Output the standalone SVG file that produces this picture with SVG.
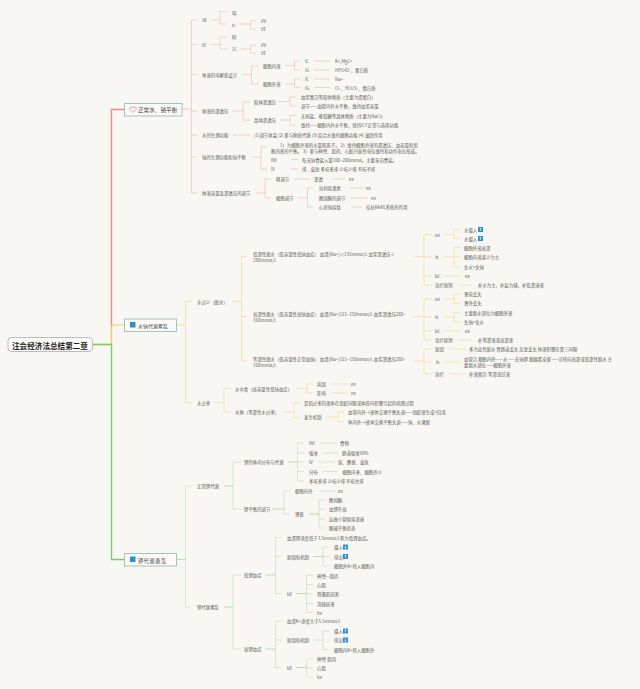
<svg xmlns="http://www.w3.org/2000/svg" width="640" height="689" viewBox="0 0 640 689">
<style>
text{font-family:"Noto Sans CJK SC","Liberation Sans",sans-serif;font-size:4.4px;fill:#5a5a56;dominant-baseline:central}
.m{font-size:5.6px;fill:#444}
.r{font-size:7.6px;font-weight:700;fill:#222;text-anchor:middle}
.box{fill:#fbfaf7;stroke:#8fb5ae;stroke-width:.8}
.root{fill:#fbfaf7;stroke:#a9adb3;stroke-width:.8}
.c{fill:none;stroke-width:.7}
.p{stroke:#f3bdbb}.o{stroke:#fbd88f}.g{stroke:#c8dcc4}.gb{stroke:#9dd48d}
.ic{fill:#2a8fd6}
.ar{fill:none;stroke:#fff;stroke-width:.6}
</style>
<rect width="640" height="689" fill="#f8f7f3"/>
<g id="connectors">
<path d="M92 344.5H111.5V325" fill="none" stroke="#fbc66e" stroke-width="1.4"/>
<path d="M111.5 326V109.5H124" fill="none" stroke="#f08a82" stroke-width="1.4"/>
<path d="M111.5 325H124" fill="none" stroke="#fbd48a" stroke-width="1.4"/>
<path d="M92 344.5H111.5V559.5H124" fill="none" stroke="#7ccb68" stroke-width="1.4"/>
<g class="c p">
<path d="M182 109H191.5M197 20H191.5V193H197M191.5 44.5H197M191.5 74.5H197M191.5 111H197M191.5 135H197M191.5 157H197"/>
<path d="M212 20H220M227 11.5H220V24H227M240 24H250.5M256 20.5H250.5V29H256"/>
<path d="M211 44.5H220M227 37H220V49H227M241 49H250.5M256 45H250.5V53H256"/>
<path d="M242 74.5H251.5M258 66H251.5V84H258M285 65.5H294.5M300 61H294.5V70H300M314 61H330M314 70H330M285 84H294.5M300 79H294.5V87.5H300M314 79H330M314 87.5H330"/>
<path d="M232 111H243M250 102H243V120H250M278 101.500H290M296 97H290V106H296M280 120H290M296 115.500H290V125H296"/>
<path d="M233 135H250"/>
<path d="M251 157H261M267 147H261V169H267M291 159.500H298M291 169H298"/>
<path d="M256 193H265M271 179H265V198H271M294 179H310M331 179H345M298 198H307.500M313 188H307.500V207H313M350 188H365M350 198H368M352 207H362"/>
</g>
<g class="c o">
<path d="M176 325H185.500M192 301.500H185.500V402.500H192M232 301.500H241.500M247 256.500H241.500V361H247M241.500 316.500H247"/>
<path d="M414 256.500H424M432 234.500H424V285H432M424 257H432M424 276H432M444 234.500H454M460 229.500H454V238.500H460M444 257H454M460 247.500H454V267H460M454 257H460M444 276H460M458 285H472"/>
<path d="M414 316.500H424M432 299H424V340H432M424 317H432M424 331H432M444 299H454M460 294H454V303H460M444 317H454M460 313H454V322H460M444 331H460M458 340H472"/>
<path d="M414 361H424M432 349H424V374H432M424 362H432M449 349H466M445 362H460M449 374H466"/>
<path d="M214 402.500H224M231 388.500H224V412H231M297 388.500H307M313 384H307V393H313M332 384H348M332 393H348M284 412H294M300 403H294V417.500H300M326 417H338M344 412H338V421.500H344"/>
</g>
<g class="c g">
<path d="M191 486H185.500V607H191M241 462H233V509H241M304 443H297.500V481H304M297.500 453H304M297.500 462H304M297.500 471.500H304M320 443H337M323 453H338M318 462H335M323 471.500H338"/>
<path d="M290 491H284V514H290M320 491H336M325 500H319V528H325M319 509H325M319 519H325"/>
<path d="M241 575H233V649H241M282 537.500H275.500V593.500H282M275.500 556.500H282M329 547H323V566H329M323 556.500H329M313 575.500H306.500V612.500H313M306.500 584.500H313M306.500 594H313M306.500 603.500H313"/>
<path d="M282 621H275.500V667.500H282M275.500 640H282M329 631H323V649.500H329M313 640H323M313 659H306.500V677H313M306.500 668H313"/>
</g>
<g class="c gb">
<path d="M176 559.500H185.500M224 486H233M224 607H233M288 462H297.500M266 575H275.500M313 556.500H323M296 593.500H306.500M266 649H275.500M296 667.500H306.500M272 509H284M309 514H319"/>
</g>
</g>
<g id="root"><rect class="root" x="8" y="337.500" width="84.500" height="14" rx="3.500"/><text class="r" x="50" y="345">注会经济法总结第二章</text></g>
<g id="node1"><rect class="box" x="124.500" y="103.500" width="57.500" height="12.500"/><path d="M133 112.500l-3-3c-1.400-1.800 1.600-3.400 3-1.500c1.400-1.900 4.400-.3 3 1.500z" fill="none" stroke="#e8615a" stroke-width=".6"/><text class="m" x="138" y="110">正常水、钠平衡</text></g>
<g id="node2"><rect class="box" x="124.500" y="319" width="52" height="12.500"/><rect class="ic" x="130" y="322" width="5.500" height="5.500"/><text class="m" x="138" y="325.500" style="font-size:5px">水钠代谢紊乱</text></g>
<g id="node3"><rect class="box" x="124.500" y="553.500" width="52" height="12.500"/><rect class="ic" x="130" y="556.500" width="5.500" height="5.500"/><text class="m" x="138" y="560" style="font-size:5.200px;letter-spacing:.6px">钾代谢紊乱</text></g>
<g id="s1">
<g id="a1"><text x="202" y="20">tR</text></g>
<g id="a2"><text x="232" y="12.500">叫</text></g>
<g id="a3"><text x="232" y="24.500">lc</text></g>
<g id="a4"><text x="261" y="20.500">VV</text></g>
<g id="a5"><text x="261" y="29">VE</text></g>
<g id="a6"><text x="202" y="44.500">tE</text></g>
<g id="a7"><text x="232" y="37">阿</text></g>
<g id="a8"><text x="232" y="49">1C</text></g>
<g id="a9"><text x="261" y="45">VV</text></g>
<g id="a10"><text x="261" y="53">VE</text></g>
<g id="a11"><text x="202" y="74.500">体液的电解质设计</text></g>
<g id="a12"><text x="263" y="66">细胞内液</text></g>
<g id="a13"><text x="263" y="84">细胞外液</text></g>
<g id="a14"><text x="305" y="61">IC</text></g>
<g id="a15"><text x="305" y="70">IG</text></g>
<g id="a16"><text x="335" y="61">K+,Mg2+</text></g>
<g id="a17"><text x="335" y="70">HPO42-、蛋白质</text></g>
<g id="a18"><text x="305" y="79">IC</text></g>
<g id="a19"><text x="305" y="87.500">IG</text></g>
<g id="a20"><text x="335" y="79">Na+</text></g>
<g id="a21"><text x="335" y="87.500">Cl-、HCO3-、蛋白质</text></g>
<g id="a22"><text x="202" y="111">体液的渗透压</text></g>
<g id="a23"><text x="254" y="102">胶体渗透压</text></g>
<g id="a24"><text x="254" y="120">晶体渗透压</text></g>
<g id="a25"><text x="301" y="97">血浆蛋白等胶体物质（主要为清蛋白）</text></g>
<g id="a26"><text x="301" y="106">调节——血管内外水平衡，维持血浆容量</text></g>
<g id="a27"><text x="301" y="115.500">无机盐、葡萄糖等晶体物质（主要为NaCl）</text></g>
<g id="a28"><text x="301" y="125">维持——细胞内外水平衡，保持ICF正常与选择功能</text></g>
<g id="a29"><text x="202" y="135">水的生理功能</text></g>
<g id="a30"><text x="254" y="135">(1)调节体温 (2) 参与物质代谢 (3) 结合水维持细胞功能 (4) 滋润作用</text></g>
<g id="a31"><text x="202" y="157">钠的生理功能和钠平衡</text></g>
<g id="a32"><text x="280" y="144.500">1）为细胞外液的水量阳离子。      2）维持细胞外液的渗透压、血容量和组</text><text x="271" y="150.500">胞内液的平衡。      3）参与神经、肌肉、心脏兴奋性电位维持和动作电位形成。</text></g>
<g id="a33"><text x="271" y="159.500">INI</text></g>
<g id="a34"><text x="302" y="159.500">每天钠食盐入量100~200mmol。主要来自食盐。</text></g>
<g id="a35"><text x="271" y="169">IV</text></g>
<g id="a36"><text x="302" y="169">排、皮肤 多吃多排 少吃少排 不吃不排</text></g>
<g id="a37"><text x="202" y="193">体液容量及渗透压的调节</text></g>
<g id="a38"><text x="276" y="179">释调节</text></g>
<g id="a39"><text x="276" y="198">细胞调节</text></g>
<g id="a40"><text x="314" y="179">渗透</text></g>
<g id="a41"><text x="349" y="179">ee</text></g>
<g id="a42"><text x="319" y="188">抗利尿激素</text></g>
<g id="a43"><text x="319" y="198">醛固酮的调节</text></g>
<g id="a44"><text x="319" y="207">心房钠尿肽</text></g>
<g id="a45"><text x="366" y="188">ee</text></g>
<g id="a46"><text x="371" y="198">ee</text></g>
<g id="a47"><text x="366" y="207">拮抗RAAS系统的作用</text></g>
</g>
<g id="s2">
<g id="b1"><text x="197" y="301.500">水过少（脱水）</text></g>
<g id="b2"><text x="253" y="254">低渗性脱水（低容量性低钠血症）  血清[Na+]＜135mmol/L 血浆渗透压＜</text><text x="253" y="260">280mmol/L</text></g>
<g id="b3"><text x="253" y="314">高渗性脱水（低容量性高钠血症）  血清[Na+]115~150mmol/L 血浆渗透压280~</text><text x="253" y="320">310mmol/L</text></g>
<g id="b4"><text x="253" y="359">等渗性脱水（低容量性正常血钠）  血清[Na+]115~150mmol/L 血浆渗透压280~</text><text x="253" y="365">310mmol/L</text></g>
<g id="b5"><text x="435" y="234.500">ee</text></g>
<g id="b6"><text x="435" y="257">Ix</text></g>
<g id="b7"><text x="435" y="276">bC</text></g>
<g id="b8"><text x="435" y="285">治疗原则</text></g>
<g id="b9"><text x="464" y="229.500">水摄入</text><rect class="ic" x="478" y="227" width="5" height="5"/><path class="ar" d="M480.500 231V228M479.500 229l1-1 1 1"/></g>
<g id="b10"><text x="464" y="238.500">水摄入</text><rect class="ic" x="478" y="236" width="5" height="5"/><path class="ar" d="M480.500 240V237M479.500 238l1-1 1 1"/></g>
<g id="b11"><text x="464" y="247.500">细胞外液高渗</text></g>
<g id="b12"><text x="464" y="257">细胞内液减少为主</text></g>
<g id="b13"><text x="464" y="267">失水&gt;失钠</text></g>
<g id="b14"><text x="465" y="276">ee</text></g>
<g id="b15"><text x="478" y="284.500">补水为主，补盐为辅，补低渗溶液</text></g>
<g id="b16"><text x="435" y="299">ee</text></g>
<g id="b17"><text x="435" y="317">Ix</text></g>
<g id="b18"><text x="435" y="331">bC</text></g>
<g id="b19"><text x="435" y="340">治疗原则</text></g>
<g id="b20"><text x="464" y="294">肾前丢失</text></g>
<g id="b21"><text x="464" y="303">肾外丢失</text></g>
<g id="b22"><text x="464" y="313">主要脱水部位为细胞外液</text></g>
<g id="b23"><text x="464" y="322">失钠&gt;失水</text></g>
<g id="b24"><text x="465" y="331">ee</text></g>
<g id="b25"><text x="478" y="340">补等渗液或高渗液</text></g>
<g id="b26"><text x="435" y="349">原因</text></g>
<g id="b27"><text x="469" y="349">多为急性脱水 胃肠道丢失 反复丢失 体液积聚在第三间隙</text></g>
<g id="b28"><text x="436" y="362">Ix</text></g>
<g id="b29"><text x="464" y="359">血管沉 细胞内外——水——无钠钾 脱胰脂支留——可转向高渗或低渗性脱水 主</text><text x="464" y="365">要脱水部位——细胞外液</text></g>
<g id="b30"><text x="435" y="374">治疗</text></g>
<g id="b31"><text x="469" y="374">补液频次-等渗或综液</text></g>
<g id="b32"><text x="197" y="402.500">水过多</text></g>
<g id="b33"><text x="235" y="388.500">水中毒（高容量性低钠血症）</text></g>
<g id="b34"><text x="235" y="412">水肿（等渗性水过多）</text></g>
<g id="b35"><text x="317" y="384">病因</text></g>
<g id="b36"><text x="317" y="393">影响</text></g>
<g id="b37"><text x="351" y="384">ee</text></g>
<g id="b38"><text x="351" y="393">ee</text></g>
<g id="b39"><text x="304" y="403">是指过多的液体在组织间隙或体腔内积聚引起的病理过程</text></g>
<g id="b40"><text x="304" y="417">发生机制</text></g>
<g id="b41"><text x="348" y="412">血管内外→液体交换平衡失调——组织液生成&gt;回流</text></g>
<g id="b42"><text x="348" y="421.500">体内外→液体交换平衡失调——钠、水潴留</text></g>
</g>
<g id="s3">
<g id="c1"><text x="197" y="486">正常钾代谢</text></g>
<g id="c2"><text x="244" y="462">钾的体内分布与代谢</text></g>
<g id="c3"><text x="244" y="509">钾平衡的调节</text></g>
<g id="c4"><text x="309" y="443">INI</text></g>
<g id="c5"><text x="309" y="453">吸收</text></g>
<g id="c6"><text x="309" y="462">IV</text></g>
<g id="c7"><text x="309" y="471.500">分布</text></g>
<g id="c8"><text x="309" y="481">多吃多排 少吃少排 不吃也排</text></g>
<g id="c9"><text x="340" y="443">食物</text></g>
<g id="c10"><text x="342" y="453">肠道吸收90%</text></g>
<g id="c11"><text x="338" y="462">尿、粪便、皮肤</text></g>
<g id="c12"><text x="342.500" y="471.500">细胞内多、细胞外少</text></g>
<g id="c13"><text x="295" y="491">细胞内外</text></g>
<g id="c14"><text x="338" y="491">ee</text></g>
<g id="c15"><text x="295" y="514">肾脏</text></g>
<g id="c16"><text x="329" y="500">醛固酮</text></g>
<g id="c17"><text x="329" y="509">血钾升高</text></g>
<g id="c18"><text x="329" y="519">远曲小管原尿流速</text></g>
<g id="c19"><text x="329" y="528">酸碱平衡状态</text></g>
<g id="c20"><text x="197" y="607">钾代谢紊乱</text></g>
<g id="c21"><text x="244" y="575">低钾血症</text></g>
<g id="c22"><text x="244" y="649">高钾血症</text></g>
<g id="c23"><text x="287" y="537.500">血清钾浓度低于3.5mmol/L称为低钾血症。</text></g>
<g id="c24"><text x="287" y="556.500">原因和机制</text></g>
<g id="c25"><text x="287" y="593.500">bE</text></g>
<g id="c26"><text x="334" y="547">摄入</text><rect class="ic" x="343" y="544.500" width="5" height="5"/><path class="ar" d="M345.500 545.500V548.500M344.500 547.500l1 1 1-1"/></g>
<g id="c27"><text x="334" y="556.500">排出</text><rect class="ic" x="343" y="554" width="5" height="5"/><path class="ar" d="M345.500 558V555M344.500 556l1-1 1 1"/></g>
<g id="c28"><text x="334" y="566">细胞外K+转入细胞内</text></g>
<g id="c29"><text x="317" y="575.500">神经—肌肉</text></g>
<g id="c30"><text x="317" y="584.500">心肌</text></g>
<g id="c31"><text x="317" y="594">骨骼肌损害</text></g>
<g id="c32"><text x="317" y="603.500">消肢损害</text></g>
<g id="c33"><text x="317" y="612.500">hx</text></g>
<g id="c34"><text x="287" y="621">血清K+浓度大于5.5mmol/L</text></g>
<g id="c35"><text x="287" y="640">原因和机制</text></g>
<g id="c36"><text x="287" y="667.500">bE</text></g>
<g id="c37"><text x="334" y="631">摄入</text><rect class="ic" x="343" y="628.500" width="5" height="5"/><path class="ar" d="M345.500 632.500V629.500M344.500 630.500l1-1 1 1"/></g>
<g id="c38"><text x="334" y="640">排出</text><rect class="ic" x="343" y="637.500" width="5" height="5"/><path class="ar" d="M345.500 638.500V641.500M344.500 640.500l1 1 1-1"/></g>
<g id="c39"><text x="334" y="649.500">细胞内K+转入细胞外</text></g>
<g id="c40"><text x="317" y="659">神经-肌肉</text></g>
<g id="c41"><text x="317" y="668">心肌</text></g>
<g id="c42"><text x="317" y="677">hx</text></g>
</g>
</svg>
